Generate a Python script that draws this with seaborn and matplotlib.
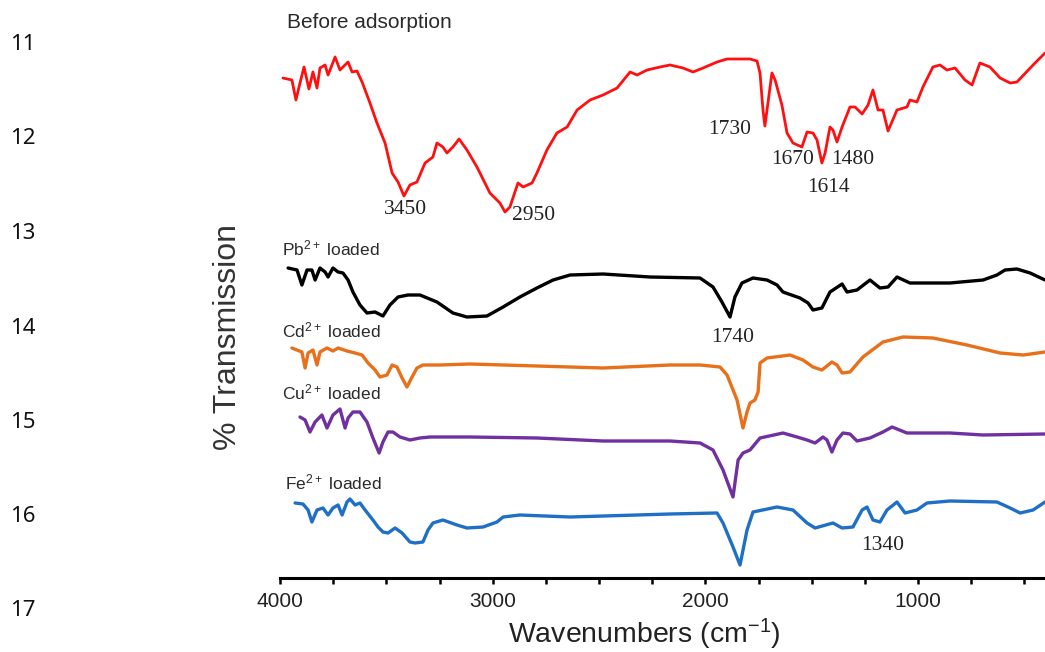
import matplotlib
matplotlib.use("Agg")
import matplotlib.pyplot as plt
import matplotlib.ticker as mticker
import seaborn as sns
import pandas as pd

# ---------------- data ----------------
before_wn = [3986, 3944, 3925, 3906, 3887, 3864, 3845, 3826, 3812, 3788, 3774, 3741, 3718, 3680,
             3661, 3638, 3614, 3577, 3544, 3506, 3473, 3445, 3417, 3389, 3356, 3318, 3281, 3262,
             3234, 3215, 3187, 3158, 3121, 3074, 3013, 2966, 2942, 2919, 2881, 2857, 2815, 2792,
             2745, 2698, 2650, 2603, 2542, 2481, 2415, 2354, 2321, 2274, 2213, 2166, 2105, 2058,
             2011, 1945, 1898, 1790, 1757, 1743, 1729, 1720, 1710, 1687, 1672, 1640, 1616, 1588,
             1546, 1522, 1494, 1475, 1452, 1437, 1414, 1400, 1381, 1357, 1320, 1296, 1263, 1235,
             1212, 1188, 1165, 1141, 1099, 1052, 1038, 1005, 977, 930, 897, 864, 826, 779, 746,
             709, 662, 614, 567, 535, 459, 403]
before_t = [100.0, 99.6, 95.6, 99.0, 102.2, 97.8, 101.2, 98.0, 102.0, 102.6, 100.6, 104.2, 101.6,
            103.2, 101.2, 101.4, 99.2, 95.0, 91.0, 87.0, 81.0, 79.2, 76.4, 78.6, 79.2, 83.0, 84.2,
            87.0, 86.2, 85.0, 86.2, 87.8, 85.6, 82.2, 77.0, 75.0, 73.2, 74.2, 79.0, 78.2, 79.0,
            81.0, 85.6, 89.0, 90.2, 93.6, 95.6, 96.6, 98.0, 101.2, 100.6, 101.6, 102.2, 102.6,
            102.0, 101.2, 102.0, 103.2, 103.8, 103.8, 103.4, 101.0, 93.6, 90.4, 93.6, 101.0, 99.6,
            94.6, 89.0, 87.0, 86.2, 89.2, 89.0, 87.6, 83.0, 85.0, 90.2, 89.6, 87.2, 90.2, 94.2,
            94.2, 92.8, 94.6, 97.6, 93.6, 93.6, 89.4, 93.6, 94.2, 95.6, 95.2, 98.2, 102.2, 102.6,
            101.6, 102.0, 99.6, 98.6, 103.0, 102.2, 100.0, 99.0, 99.2, 102.6, 105.0]

pb_wn = [3962, 3920, 3897, 3873, 3850, 3835, 3812, 3788, 3774, 3751, 3727, 3704, 3680, 3657, 3624,
         3591, 3553, 3516, 3483, 3445, 3398, 3342, 3262, 3187, 3121, 3027, 2951, 2872, 2792, 2716,
         2636, 2481, 2260, 2025, 1964, 1922, 1884, 1861, 1828, 1776, 1710, 1663, 1635, 1555, 1517,
         1494, 1452, 1414, 1357, 1334, 1287, 1226, 1179, 1141, 1099, 1038, 850, 694, 629, 591,
         535, 473, 403]
pb_t = [62.0, 61.6, 58.6, 61.6, 61.6, 59.6, 62.0, 61.2, 60.2, 62.0, 61.2, 61.0, 59.6, 57.2, 54.6,
        53.0, 53.2, 52.4, 54.6, 56.2, 56.6, 56.6, 55.2, 53.0, 52.2, 52.4, 54.2, 56.2, 58.0, 59.6,
        60.6, 60.8, 60.2, 60.0, 58.2, 55.2, 52.2, 56.2, 59.0, 60.0, 59.6, 58.6, 57.2, 56.0, 55.0,
        53.6, 54.0, 57.2, 58.8, 57.2, 57.6, 59.6, 58.0, 58.2, 60.2, 59.0, 59.0, 59.6, 60.6, 61.6,
        61.8, 61.0, 59.6]

cd_wn = [3944, 3897, 3882, 3868, 3845, 3826, 3812, 3779, 3751, 3727, 3685, 3647, 3614, 3586, 3553,
         3530, 3497, 3473, 3450, 3426, 3403, 3379, 3356, 3328, 3248, 3107, 2792, 2481, 2166, 2025,
         1931, 1898, 1851, 1823, 1804, 1790, 1767, 1752, 1743, 1710, 1602, 1541, 1494, 1452, 1405,
         1381, 1357, 1320, 1259, 1165, 1071, 930, 770, 614, 506, 403]
cd_t = [46.0, 45.2, 42.0, 45.0, 45.6, 42.6, 45.2, 46.0, 45.4, 46.0, 45.4, 45.0, 44.6, 43.0, 41.6,
        40.2, 40.6, 42.6, 42.2, 40.0, 38.2, 40.2, 42.0, 42.6, 42.6, 42.8, 42.4, 42.0, 42.6, 42.6,
        42.2, 40.6, 35.6, 30.0, 33.2, 35.0, 35.6, 37.2, 43.0, 44.0, 44.6, 43.6, 42.2, 41.6, 43.2,
        42.6, 41.0, 41.2, 44.2, 47.2, 48.2, 48.0, 46.6, 45.0, 44.6, 45.2]

cu_wn = [3906, 3882, 3859, 3835, 3803, 3779, 3751, 3718, 3694, 3680, 3657, 3624, 3591, 3563, 3534,
         3516, 3492, 3469, 3436, 3389, 3342, 3295, 3248, 3107, 2792, 2481, 2166, 2025, 1964, 1917,
         1870, 1846, 1823, 1790, 1743, 1635, 1569, 1522, 1484, 1447, 1428, 1405, 1381, 1353, 1320,
         1287, 1226, 1165, 1122, 1052, 850, 694, 403]
cu_t = [32.2, 31.6, 29.2, 31.2, 32.6, 30.0, 32.6, 33.8, 30.0, 32.0, 33.2, 33.2, 31.2, 28.0, 25.0,
        27.2, 29.2, 29.2, 28.2, 27.6, 28.0, 28.2, 28.2, 28.2, 28.0, 27.4, 27.4, 27.0, 25.6, 21.6,
        16.2, 23.6, 25.0, 25.6, 28.0, 29.0, 28.2, 27.6, 27.0, 28.2, 27.6, 25.2, 27.6, 29.0, 28.8,
        27.4, 28.0, 29.2, 30.2, 29.0, 29.0, 28.6, 28.8]

fe_wn = [3929, 3892, 3868, 3850, 3826, 3798, 3774, 3751, 3727, 3708, 3685, 3671, 3647, 3624, 3600,
         3563, 3539, 3516, 3492, 3459, 3426, 3389, 3365, 3328, 3304, 3281, 3234, 3168, 3121, 3045,
         2980, 2951, 2872, 2636, 2321, 2166, 1945, 1917, 1870, 1837, 1804, 1776, 1663, 1588, 1522,
         1484, 1400, 1357, 1306, 1263, 1240, 1212, 1179, 1146, 1099, 1061, 1005, 958, 850, 629,
         567, 520, 459, 403]
fe_t = [15.0, 14.8, 13.6, 11.2, 13.6, 14.0, 12.6, 14.0, 14.6, 12.6, 15.2, 15.8, 14.6, 15.0, 13.6,
        11.6, 10.2, 9.2, 9.0, 10.0, 9.0, 7.2, 7.0, 7.2, 9.6, 11.0, 11.6, 10.6, 10.0, 10.2, 11.2,
        12.2, 12.6, 12.2, 12.6, 12.8, 13.0, 11.0, 6.2, 2.6, 9.6, 13.2, 14.2, 13.6, 11.0, 10.0,
        11.0, 10.0, 10.2, 13.6, 14.2, 11.6, 11.2, 13.6, 15.2, 13.0, 13.6, 15.0, 15.4, 15.2, 14.0,
        13.0, 13.6, 15.2]

series_names = ["Before adsorption", "Pb", "Cd", "Cu", "Fe"]
series_labels = ["Before adsorption", r"Pb$^{\mathrm{2+}}$ loaded", r"Cd$^{\mathrm{2+}}$ loaded",
                 r"Cu$^{\mathrm{2+}}$ loaded", r"Fe$^{\mathrm{2+}}$ loaded"]
label_anchor_wn = [3967, 3991, 3991, 3991, 3976]
label_anchor_t = [111.0, 66.0, 49.6, 37.2, 19.2]

peak_texts = ["3450", "2950", "1730", "1670", "1480", "1614", "1740", "1340"]
peak_wn = [3412, 2810, 1884, 1588, 1306, 1419, 1870, 1165]
peak_t = [73.6, 72.4, 89.6, 83.6, 83.6, 78.2, 48.2, 6.6]

line_numbers = ["11", "12", "13", "14", "15", "16", "17"]

x_ticks_major = [4000, 3000, 2000, 1000]

# ---------------- plotting ----------------
sns.set_theme(style="white")
plt.rcParams["font.family"] = ["Liberation Sans", "DejaVu Sans"]
plt.rcParams["mathtext.fontset"] = "custom"
plt.rcParams["mathtext.rm"] = "Liberation Sans"
plt.rcParams["mathtext.it"] = "Liberation Sans:italic"
plt.rcParams["mathtext.bf"] = "Liberation Sans:bold"

frames = []
for name, wn, t in zip(series_names,
                       [before_wn, pb_wn, cd_wn, cu_wn, fe_wn],
                       [before_t, pb_t, cd_t, cu_t, fe_t]):
    frames.append(pd.DataFrame({"wn": wn, "T": t, "series": name}))
df = pd.concat(frames, ignore_index=True)

palette = {"Before adsorption": "#ff1010", "Pb": "#000000", "Cd": "#e8701a",
           "Cu": "#7030a0", "Fe": "#1f6fc6"}
widths = {"Before adsorption": 2.0, "Pb": 2.4, "Cd": 2.4, "Cu": 2.4, "Fe": 2.4}

fig = plt.figure(figsize=(10.45, 6.52), dpi=100)
ax = fig.add_axes([280 / 1045, 74 / 652, 765 / 1045, 578 / 652])

for name in series_names:
    sub = df[df["series"] == name]
    sns.lineplot(data=sub, x="wn", y="T", ax=ax, color=palette[name],
                 linewidth=widths[name], estimator=None, sort=False, legend=False)

ax.set_xlim(4000, 403)
ax.set_ylim(0, 115.6)

label_sizes = [15, 12.5, 12.5, 12.5, 12.5]
for lab, x, y, fs in zip(series_labels, label_anchor_wn, label_anchor_t, label_sizes):
    ax.text(x, y, lab, ha="left", va="center", fontsize=fs, color="#2a2a2a")

for txt, x, y in zip(peak_texts, peak_wn, peak_t):
    ax.text(x, y, txt, ha="center", va="center", fontsize=15.5,
            family=["Liberation Serif", "DejaVu Serif"], color="#222222")

for s in ["top", "left", "right"]:
    ax.spines[s].set_visible(False)
ax.spines["bottom"].set_color("black")
ax.spines["bottom"].set_linewidth(2.2)

ax.xaxis.set_major_locator(mticker.FixedLocator(x_ticks_major))
ax.xaxis.set_minor_locator(mticker.MultipleLocator(250))
ax.tick_params(axis="x", which="both", direction="out", length=4, width=1.8,
               color="black", bottom=True)
ax.tick_params(axis="x", which="major", labelsize=15, pad=6, labelcolor="#222222")
ax.set_yticks([])
ax.set_xlabel(r"Wavenumbers (cm$^{\mathrm{-1}}$)", fontsize=20.5, color="#222222")
ax.xaxis.set_label_coords((644 - 280) / 765, -(634 - 578) / 578)
ax.xaxis.label.set_verticalalignment("center")
ax.set_ylabel("% Transmission", fontsize=23, color="#333333")
ax.yaxis.set_label_coords(-(280 - 228) / 765, (578 - 337) / 578)
ax.yaxis.label.set_verticalalignment("center")
ax.set_facecolor("white")
fig.patch.set_facecolor("white")

ln_y = [45, 138, 233, 328, 422, 517, 610]
for txt, yy in zip(line_numbers, ln_y):
    fig.text(10 / 1045, 1 - yy / 652, txt, ha="left", va="center", fontsize=16,
             family=["Noto Sans", "DejaVu Sans"], color="#111111")

fig.savefig("out.png", dpi=100, facecolor="white")
